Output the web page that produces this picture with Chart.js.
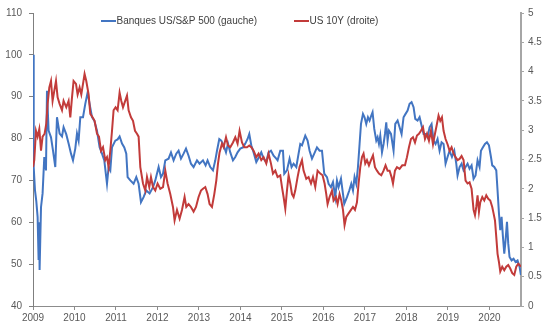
<!DOCTYPE html>
<html lang="fr">
<head>
<meta charset="UTF-8">
<title>Banques US/S&amp;P 500 et US 10Y</title>
<script src="https://cdn.jsdelivr.net/npm/chart.js"></script>
<style>
  html, body { margin: 0; padding: 0; background: #fff; }
  canvas { display: block; }
</style>
</head>
<body>
<canvas id="ratesChart" width="546" height="335"></canvas>
<script>
// ratio banques US / S&P 500 (axe gauche)
const bankDates = [
  2009.000, 2009.017, 2009.048, 2009.080, 2009.111, 2009.135, 2009.147, 2009.159, 2009.193, 2009.231,
  2009.272, 2009.313, 2009.337, 2009.376, 2009.434, 2009.482, 2009.537, 2009.578, 2009.641, 2009.699,
  2009.737, 2009.802, 2009.858, 2009.916, 2009.964, 2010.019, 2010.060, 2010.099, 2010.140, 2010.205,
  2010.260, 2010.316, 2010.364, 2010.422, 2010.477, 2010.542, 2010.605, 2010.663, 2010.718, 2010.783,
  2010.822, 2010.863, 2010.904, 2010.983, 2011.039, 2011.087, 2011.145, 2011.200, 2011.248, 2011.280,
  2011.345, 2011.424, 2011.489, 2011.545, 2011.602, 2011.665, 2011.730, 2011.810, 2011.892, 2011.947,
  2012.027, 2012.084, 2012.133, 2012.188, 2012.267, 2012.325, 2012.388, 2012.453, 2012.508, 2012.566,
  2012.629, 2012.687, 2012.749, 2012.807, 2012.870, 2012.952, 2013.014, 2013.096, 2013.159, 2013.207,
  2013.272, 2013.337, 2013.393, 2013.434, 2013.489, 2013.537, 2013.593, 2013.651, 2013.699, 2013.754,
  2013.819, 2013.875, 2013.930, 2013.995, 2014.060, 2014.116, 2014.171, 2014.212, 2014.260, 2014.316,
  2014.381, 2014.446, 2014.501, 2014.557, 2014.622, 2014.677, 2014.735, 2014.798, 2014.863, 2014.894,
  2014.959, 2015.024, 2015.055, 2015.120, 2015.183, 2015.231, 2015.280, 2015.345, 2015.400, 2015.441,
  2015.482, 2015.561, 2015.617, 2015.665, 2015.723, 2015.778, 2015.843, 2015.906, 2015.964, 2016.019,
  2016.084, 2016.123, 2016.181, 2016.229, 2016.284, 2016.325, 2016.364, 2016.422, 2016.470, 2016.501,
  2016.566, 2016.622, 2016.670, 2016.711, 2016.749, 2016.790, 2016.831, 2016.870, 2016.904, 2016.952,
  2016.990, 2017.031, 2017.072, 2017.111, 2017.152, 2017.183, 2017.224, 2017.272, 2017.304, 2017.337,
  2017.369, 2017.410, 2017.448, 2017.482, 2017.513, 2017.545, 2017.578, 2017.627, 2017.689, 2017.730,
  2017.786, 2017.834, 2017.882, 2017.930, 2017.978, 2018.027, 2018.075, 2018.123, 2018.171, 2018.212,
  2018.267, 2018.316, 2018.364, 2018.412, 2018.460, 2018.508, 2018.557, 2018.605, 2018.653, 2018.701,
  2018.749, 2018.798, 2018.846, 2018.894, 2018.942, 2018.990, 2019.039, 2019.096, 2019.152, 2019.200,
  2019.231, 2019.280, 2019.328, 2019.376, 2019.424, 2019.472, 2019.520, 2019.569, 2019.617, 2019.665,
  2019.713, 2019.761, 2019.795, 2019.843, 2019.892, 2019.940, 2019.988, 2020.036, 2020.067, 2020.116,
  2020.164, 2020.195, 2020.229, 2020.260, 2020.292, 2020.325, 2020.357, 2020.388, 2020.422, 2020.453,
  2020.484, 2020.533, 2020.581, 2020.629, 2020.677, 2020.725, 2020.759
];
const bankRatio = [
  100.0, 73.2, 67.6, 65.0, 61.3, 51.0, 60.0, 48.6, 63.6, 66.9,
  75.6, 72.4, 91.4, 81.9, 80.3, 77.1, 73.2, 85.1, 81.2, 80.5,
  82.7, 81.0, 78.8, 76.4, 74.8, 77.6, 81.2, 79.5, 85.1, 85.1,
  88.3, 91.0, 88.3, 85.1, 84.3, 81.9, 77.9, 76.4, 74.8, 69.2,
  73.2, 72.4, 77.9, 79.5, 79.8, 80.5, 78.8, 77.9, 76.4, 70.8,
  70.0, 69.2, 70.8, 69.2, 64.8, 66.0, 67.6, 66.9, 68.4, 70.0,
  73.2, 70.8, 71.6, 74.8, 75.2, 76.7, 74.8, 76.4, 77.1, 75.2,
  76.4, 77.6, 75.9, 74.0, 73.2, 74.8, 74.0, 74.8, 73.6, 74.8,
  73.2, 72.4, 74.8, 77.1, 79.9, 79.5, 78.4, 76.7, 78.8, 76.7,
  74.8, 75.6, 76.7, 77.6, 77.9, 78.8, 79.9, 81.1, 78.4, 76.7,
  74.4, 75.6, 76.7, 75.2, 74.4, 76.7, 77.1, 75.9, 75.2, 74.8,
  77.1, 77.1, 71.6, 72.4, 75.2, 73.2, 74.0, 73.2, 76.4, 78.7,
  78.4, 80.7, 79.5, 77.1, 75.2, 76.4, 77.9, 77.1, 77.1, 71.6,
  70.8, 69.2, 68.4, 69.6, 66.0, 70.0, 68.4, 70.4, 66.8, 64.4,
  66.0, 67.6, 69.2, 67.6, 70.8, 69.2, 73.2, 78.7, 83.5, 85.9,
  85.1, 83.5, 85.1, 84.3, 85.5, 86.3, 82.3, 79.5, 80.3, 78.7,
  80.7, 76.7, 78.7, 81.1, 83.9, 79.5, 81.9, 81.1, 77.1, 83.5,
  84.3, 82.7, 81.1, 85.1, 85.9, 86.7, 88.3, 88.7, 87.5, 84.7,
  84.3, 85.1, 83.1, 81.1, 81.1, 80.3, 82.7, 83.5, 79.5, 78.7,
  79.9, 77.1, 79.1, 78.7, 74.0, 75.6, 77.1, 75.6, 77.1, 74.0,
  71.2, 73.2, 74.0, 72.4, 73.2, 74.0, 72.8, 73.6, 70.4, 71.2,
  74.8, 73.2, 77.1, 77.9, 78.7, 79.1, 78.4, 75.6, 73.6, 73.2,
  72.4, 67.6, 62.1, 58.1, 61.3, 56.5, 52.5, 55.7, 60.1, 54.9,
  51.7, 50.9, 51.3, 50.5, 50.9, 49.4, 47.4
];

// taux US 10 ans en % (axe droit)
const ustDates = [
  2009.000, 2009.031, 2009.072, 2009.111, 2009.152, 2009.193, 2009.231, 2009.280, 2009.320, 2009.352,
  2009.393, 2009.434, 2009.472, 2009.513, 2009.554, 2009.593, 2009.641, 2009.699, 2009.737, 2009.802,
  2009.858, 2009.899, 2009.940, 2009.978, 2010.036, 2010.075, 2010.123, 2010.164, 2010.205, 2010.243,
  2010.284, 2010.340, 2010.381, 2010.436, 2010.484, 2010.542, 2010.590, 2010.639, 2010.687, 2010.742,
  2010.783, 2010.822, 2010.863, 2010.904, 2010.942, 2010.990, 2011.039, 2011.087, 2011.128, 2011.169,
  2011.222, 2011.265, 2011.304, 2011.361, 2011.410, 2011.458, 2011.506, 2011.545, 2011.586, 2011.651,
  2011.706, 2011.747, 2011.802, 2011.843, 2011.892, 2011.947, 2012.002, 2012.067, 2012.133, 2012.188,
  2012.243, 2012.308, 2012.373, 2012.412, 2012.470, 2012.533, 2012.590, 2012.653, 2012.694, 2012.749,
  2012.807, 2012.870, 2012.928, 2012.990, 2013.048, 2013.096, 2013.152, 2013.207, 2013.255, 2013.313,
  2013.369, 2013.417, 2013.458, 2013.496, 2013.554, 2013.593, 2013.651, 2013.699, 2013.754, 2013.819,
  2013.875, 2013.930, 2013.978, 2014.036, 2014.092, 2014.157, 2014.212, 2014.260, 2014.316, 2014.381,
  2014.436, 2014.501, 2014.557, 2014.622, 2014.677, 2014.735, 2014.783, 2014.839, 2014.894, 2014.959,
  2015.000, 2015.039, 2015.080, 2015.120, 2015.159, 2015.200, 2015.241, 2015.280, 2015.320, 2015.376,
  2015.424, 2015.482, 2015.520, 2015.586, 2015.641, 2015.699, 2015.747, 2015.802, 2015.858, 2015.923,
  2015.978, 2016.027, 2016.067, 2016.099, 2016.147, 2016.205, 2016.243, 2016.301, 2016.340, 2016.388,
  2016.429, 2016.470, 2016.508, 2016.549, 2016.605, 2016.663, 2016.711, 2016.759, 2016.807, 2016.846,
  2016.887, 2016.928, 2016.966, 2017.007, 2017.048, 2017.096, 2017.145, 2017.193, 2017.241, 2017.289,
  2017.337, 2017.393, 2017.448, 2017.496, 2017.545, 2017.593, 2017.641, 2017.675, 2017.723, 2017.771,
  2017.834, 2017.899, 2017.964, 2018.012, 2018.060, 2018.108, 2018.157, 2018.205, 2018.253, 2018.301,
  2018.349, 2018.398, 2018.446, 2018.494, 2018.542, 2018.590, 2018.639, 2018.687, 2018.735, 2018.773,
  2018.814, 2018.855, 2018.894, 2018.942, 2018.990, 2019.039, 2019.087, 2019.135, 2019.183, 2019.231,
  2019.280, 2019.328, 2019.376, 2019.424, 2019.472, 2019.520, 2019.569, 2019.617, 2019.651, 2019.682,
  2019.713, 2019.747, 2019.778, 2019.827, 2019.875, 2019.923, 2019.971, 2020.019, 2020.067, 2020.099,
  2020.133, 2020.164, 2020.195, 2020.229, 2020.260, 2020.308, 2020.357, 2020.405, 2020.453, 2020.501,
  2020.549, 2020.598, 2020.646, 2020.694, 2020.725, 2020.759
];
const ust10y = [
  2.37, 2.49, 2.99, 2.89, 3.02, 2.65, 2.89, 2.94, 3.11, 3.45,
  3.73, 3.84, 3.50, 3.67, 3.84, 3.56, 3.45, 3.34, 3.50, 3.39,
  3.50, 3.22, 3.56, 3.84, 3.79, 3.61, 3.73, 3.61, 3.79, 3.96,
  3.84, 3.61, 3.28, 3.22, 3.16, 2.94, 2.89, 2.65, 2.71, 2.49,
  2.54, 2.37, 2.65, 2.99, 3.34, 3.39, 3.34, 3.64, 3.50, 3.39,
  3.50, 3.59, 3.34, 3.22, 3.16, 2.99, 2.94, 2.89, 2.37, 2.09,
  1.97, 2.20, 2.03, 2.20, 2.03, 1.97, 2.09, 2.00, 2.03, 2.31,
  2.09, 1.91, 1.69, 1.46, 1.64, 1.49, 1.64, 1.86, 1.69, 1.74,
  1.69, 1.61, 1.69, 1.86, 1.97, 2.00, 2.03, 1.91, 1.74, 1.69,
  1.91, 2.14, 2.43, 2.62, 2.77, 2.71, 2.88, 2.74, 2.71, 2.79,
  2.88, 2.77, 2.99, 2.79, 2.71, 2.71, 2.74, 2.71, 2.65, 2.54,
  2.60, 2.49, 2.54, 2.43, 2.60, 2.43, 2.26, 2.31, 2.20, 2.23,
  2.03, 1.86, 1.66, 1.97, 2.23, 2.09, 1.91, 1.86, 1.97, 2.20,
  2.37, 2.49, 2.31, 2.17, 2.20, 2.09, 2.20, 2.03, 2.31, 2.26,
  2.23, 2.09, 1.91, 1.74, 1.86, 1.97, 1.80, 1.86, 1.74, 1.91,
  1.80, 1.64, 1.38, 1.52, 1.58, 1.64, 1.69, 1.64, 1.77, 2.09,
  2.37, 2.54, 2.60, 2.43, 2.49, 2.40, 2.49, 2.57, 2.37, 2.31,
  2.26, 2.23, 2.31, 2.40, 2.31, 2.31, 2.20, 2.09, 2.31, 2.37,
  2.34, 2.40, 2.40, 2.54, 2.71, 2.85, 2.88, 2.79, 2.91, 2.94,
  2.99, 3.05, 2.85, 2.94, 2.82, 2.99, 2.76, 2.94, 3.11, 3.25,
  3.16, 3.22, 2.99, 2.85, 2.76, 2.65, 2.71, 2.60, 2.54, 2.49,
  2.51, 2.56, 2.49, 2.14, 2.09, 2.11, 2.00, 1.64, 1.55, 1.69,
  1.89, 1.61, 1.77, 1.86, 1.80, 1.89, 1.83, 1.80, 1.69, 1.58,
  1.46, 1.18, 0.89, 0.75, 0.59, 0.67, 0.61, 0.67, 0.70, 0.64,
  0.56, 0.53, 0.67, 0.72, 0.70, 0.67
];

const yearTicks = [2009, 2010, 2011, 2012, 2013, 2014, 2015, 2016, 2017, 2018, 2019, 2020];
const leftTicks = [40, 50, 60, 70, 80, 90, 100, 110];
const rightTicks = [0, 0.5, 1, 1.5, 2, 2.5, 3, 3.5, 4, 4.5, 5];

const seriesNames = ['Banques US/S&P 500 (gauche)', 'US 10Y (droite)'];
const BLUE = '#4275c2';
const RED = '#c23b3a';
const FONT = '"Liberation Sans", Arial, Helvetica, sans-serif';

function pairs(xs, ys) {
  return xs.map((x, i) => ({ x: x, y: ys[i] }));
}

// légende dessinée à la main, posée en haut de la zone de tracé
const inlineLegend = {
  id: 'inlineLegend',
  afterDraw(chart) {
    const ctx = chart.ctx;
    const items = [
      { x: 101, color: BLUE, text: seriesNames[0] },
      { x: 294, color: RED, text: seriesNames[1] }
    ];
    ctx.save();
    ctx.font = '10px ' + FONT;
    ctx.textBaseline = 'middle';
    ctx.fillStyle = '#404040';
    items.forEach(it => {
      ctx.strokeStyle = it.color;
      ctx.lineWidth = 2;
      ctx.beginPath();
      ctx.moveTo(it.x, 21);
      ctx.lineTo(it.x + 15, 21);
      ctx.stroke();
      ctx.fillText(it.text, it.x + 15.5, 21);
    });
    ctx.restore();
  }
};

new Chart(document.getElementById('ratesChart'), {
  type: 'line',
  data: {
    datasets: [
      {
        label: seriesNames[0],
        data: pairs(bankDates, bankRatio),
        yAxisID: 'y',
        borderColor: BLUE,
        borderWidth: 2,
        pointRadius: 0,
        tension: 0,
        order: 1
      },
      {
        label: seriesNames[1],
        data: pairs(ustDates, ust10y),
        yAxisID: 'y1',
        borderColor: RED,
        borderWidth: 2,
        pointRadius: 0,
        tension: 0,
        order: 0
      }
    ]
  },
  options: {
    responsive: false,
    animation: false,
    layout: { padding: { top: 12, left: 0, right: 0, bottom: 0 } },
    plugins: { legend: { display: false }, tooltip: { enabled: false } },
    scales: {
      x: {
        type: 'linear',
        min: 2009,
        max: 2020.76,
        afterBuildTicks: s => { s.ticks = yearTicks.map(v => ({ value: v })); },
        afterFit: s => { s.height = 29; },
        grid: { drawOnChartArea: false, tickLength: 4, color: '#8c8c8c' },
        border: { color: '#8c8c8c', width: 1 },
        ticks: {
          color: '#595959',
          font: { family: FONT, size: 10 },
          padding: 2,
          maxRotation: 0,
          callback: v => String(v)
        }
      },
      y: {
        position: 'left',
        min: 40,
        max: 110,
        afterBuildTicks: s => { s.ticks = leftTicks.map(v => ({ value: v })); },
        afterFit: s => { s.width = 33; },
        grid: { drawOnChartArea: false, tickLength: 4, color: '#7f7f7f' },
        border: { color: '#7f7f7f', width: 1 },
        ticks: {
          color: '#595959',
          font: { family: FONT, size: 10 },
          padding: 7,
          callback: v => String(v)
        }
      },
      y1: {
        position: 'right',
        min: 0,
        max: 5,
        afterBuildTicks: s => { s.ticks = rightTicks.map(v => ({ value: v })); },
        afterFit: s => { s.width = 25; },
        grid: { drawOnChartArea: false, tickLength: 3, color: '#a6a6a6' },
        border: { color: '#a6a6a6', width: 2 },
        ticks: {
          color: '#595959',
          font: { family: FONT, size: 10 },
          padding: 4,
          callback: v => String(v)
        }
      }
    }
  },
  plugins: [inlineLegend]
});
</script>
</body>
</html>
